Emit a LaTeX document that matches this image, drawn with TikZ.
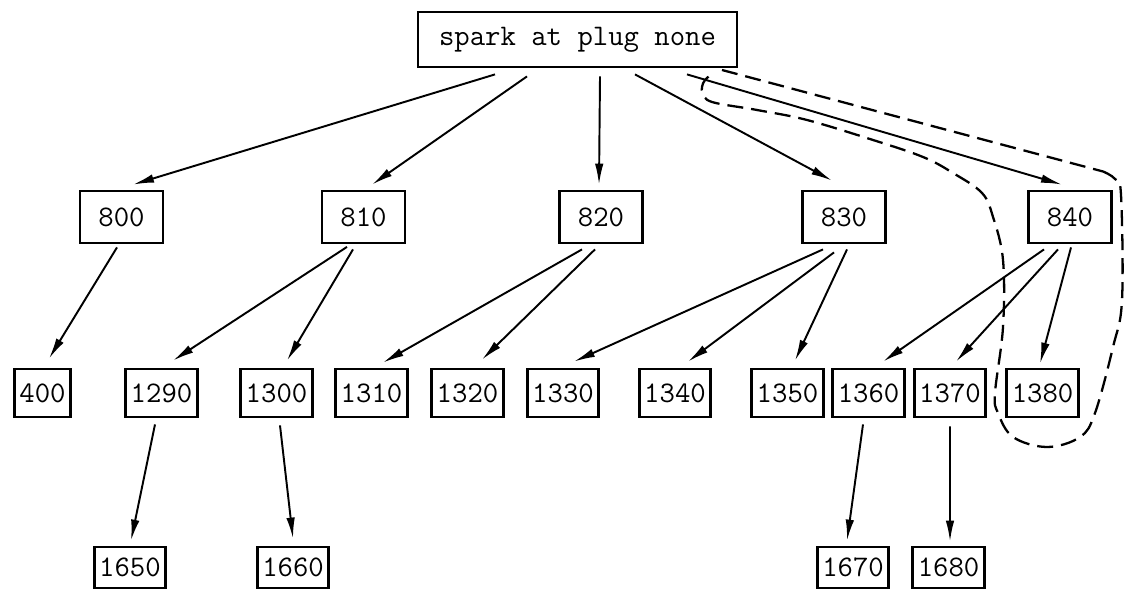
\documentclass[tikz,border=0pt]{standalone}
\usetikzlibrary{arrows.meta}

\tikzset{
    topbox/.style={draw, line width=1.6pt, minimum width=6.38cm, minimum height=1.1cm,
        font=\ttfamily\fontsize{17}{20}\selectfont},
    midbox/.style={draw, line width=1.6pt, minimum width=1.66cm, minimum height=1.04cm,
        font=\ttfamily\fontsize{17}{20}\selectfont},
    leafbox/.style={draw, line width=1.6pt, inner xsep=0.1cm, minimum height=0.96cm,
        font=\ttfamily\fontsize{17}{20}\selectfont},
    arr/.style={line width=1.1pt, -{Latex[length=4.2mm,width=1.7mm]}},
    loopline/.style={line width=1.3pt, dash pattern=on 0.32cm off 0.16cm}
}

\begin{document}
\begin{tikzpicture}
\useasboundingbox (0,0) rectangle (22.5,11.8);

% ============================
\node[topbox] (spark) at (11.55,11.01) {spark at plug none};

% ============================
\node[midbox] (n800) at (2.43,7.46) {800};
\node[midbox] (n810) at (7.27,7.46) {810};
\node[midbox] (n820) at (12.02,7.46) {820};
\node[midbox] (n830) at (16.88,7.46) {830};
\node[midbox] (n840) at (21.40,7.46) {840};

% ============================
\node[leafbox] (n400) at (0.85,3.94) {400};
\node[leafbox] (n1290) at (3.23,3.94) {1290};
\node[leafbox] (n1300) at (5.53,3.94) {1300};
\node[leafbox] (n1310) at (7.43,3.94) {1310};
\node[leafbox] (n1320) at (9.35,3.94) {1320};
\node[leafbox] (n1330) at (11.26,3.94) {1330};
\node[leafbox] (n1340) at (13.50,3.94) {1340};
\node[leafbox] (n1350) at (15.75,3.94) {1350};
\node[leafbox] (n1360) at (17.37,3.94) {1360};
\node[leafbox] (n1370) at (19.00,3.94) {1370};
\node[leafbox] (n1380) at (20.85,3.94) {1380};

% ============================
\node[leafbox, minimum height=0.82cm] (n1650) at (2.60,0.45) {1650};
\node[leafbox, minimum height=0.82cm] (n1660) at (5.86,0.45) {1660};
\node[leafbox, minimum height=0.82cm] (n1670) at (17.06,0.45) {1670};
\node[leafbox, minimum height=0.82cm] (n1680) at (18.97,0.45) {1680};

% ============================
\draw[arr] ([xshift=-1.65cm,yshift=-0.12cm]spark.south) -- ([xshift=0.23cm,yshift=0.1cm]n800.north);
\draw[arr] ([xshift=-1.01cm,yshift=-0.16cm]spark.south) -- ([xshift=0.17cm,yshift=0.1cm]n810.north);
\draw[arr] ([xshift=0.45cm,yshift=-0.16cm]spark.south) -- ([xshift=-0.04cm,yshift=0.1cm]n820.north);
\draw[arr] ([xshift=1.15cm,yshift=-0.12cm]spark.south) -- ([xshift=-0.24cm,yshift=0.18cm]n830.north);
\draw[arr] ([xshift=2.19cm,yshift=-0.12cm]spark.south) -- ([xshift=-0.16cm,yshift=0.1cm]n840.north);

% ============================
\draw[arr] ([xshift=-0.09cm,yshift=-0.06cm]n800.south) -- ([xshift=0.13cm,yshift=0.18cm]n400.north);
\draw[arr] ([xshift=-0.33cm,yshift=-0.05cm]n810.south) -- ([xshift=0.23cm,yshift=0.14cm]n1290.north);
\draw[arr] ([xshift=-0.21cm,yshift=-0.1cm]n810.south) -- ([xshift=0.21cm,yshift=0.14cm]n1300.north);
\draw[arr] ([xshift=-0.38cm,yshift=-0.1cm]n820.south) -- ([xshift=0.23cm,yshift=0.1cm]n1310.north);
\draw[arr] ([xshift=-0.12cm,yshift=-0.1cm]n820.south) -- ([xshift=0.29cm,yshift=0.16cm]n1320.north);
\draw[arr] ([xshift=-0.42cm,yshift=-0.1cm]n830.south) -- ([xshift=0.22cm,yshift=0.12cm]n1330.north);
\draw[arr] ([xshift=-0.2cm,yshift=-0.16cm]n830.south) -- ([xshift=0.26cm,yshift=0.12cm]n1340.north);
\draw[arr] ([xshift=0.06cm,yshift=-0.1cm]n830.south) -- ([xshift=0.15cm,yshift=0.14cm]n1350.north);
\draw[arr] ([xshift=-0.52cm,yshift=-0.1cm]n840.south) -- ([xshift=0.29cm,yshift=0.12cm]n1360.north);
\draw[arr] ([xshift=-0.24cm,yshift=-0.1cm]n840.south) -- ([xshift=0.12cm,yshift=0.12cm]n1370.north);
\draw[arr] ([xshift=0.02cm,yshift=-0.06cm]n840.south) -- ([xshift=-0.05cm,yshift=0.08cm]n1380.north);

% ============================
\draw[arr] ([xshift=-0.13cm,yshift=-0.12cm]n1290.south) -- ([xshift=0.02cm,yshift=0.1cm]n1650.north);
\draw[arr] ([xshift=0.07cm,yshift=-0.14cm]n1300.south) -- ([xshift=0cm,yshift=0.14cm]n1660.north);
\draw[arr] ([xshift=-0.11cm,yshift=-0.12cm]n1360.south) -- ([xshift=-0.12cm,yshift=0.1cm]n1670.north);
\draw[arr] ([xshift=0cm,yshift=-0.16cm]n1370.south) -- ([xshift=0.03cm,yshift=0.08cm]n1680.north);

% ============================
% dashed loop round 840 and 1380
\draw[loopline] (14.44,10.40) -- (22.06,8.37)
    plot[smooth, tension=0.6] coordinates {(22.06,8.37) (22.30,8.22) (22.42,7.90) (22.44,5.80)
    (22.26,4.86) (21.90,3.54) (21.60,3.06) (20.94,2.86) (20.26,3.06) (19.96,3.54) (19.90,3.94)
    (20.06,5.26) (20.06,6.60) (19.86,7.46) (19.64,7.94) (19.06,8.34) (18.46,8.66) (17.46,9.00)
    (16.14,9.40) (15.14,9.60) (14.24,9.76) (14.06,9.94) (14.04,10.06) (14.10,10.20) (14.26,10.34)};

\end{tikzpicture}
\end{document}
